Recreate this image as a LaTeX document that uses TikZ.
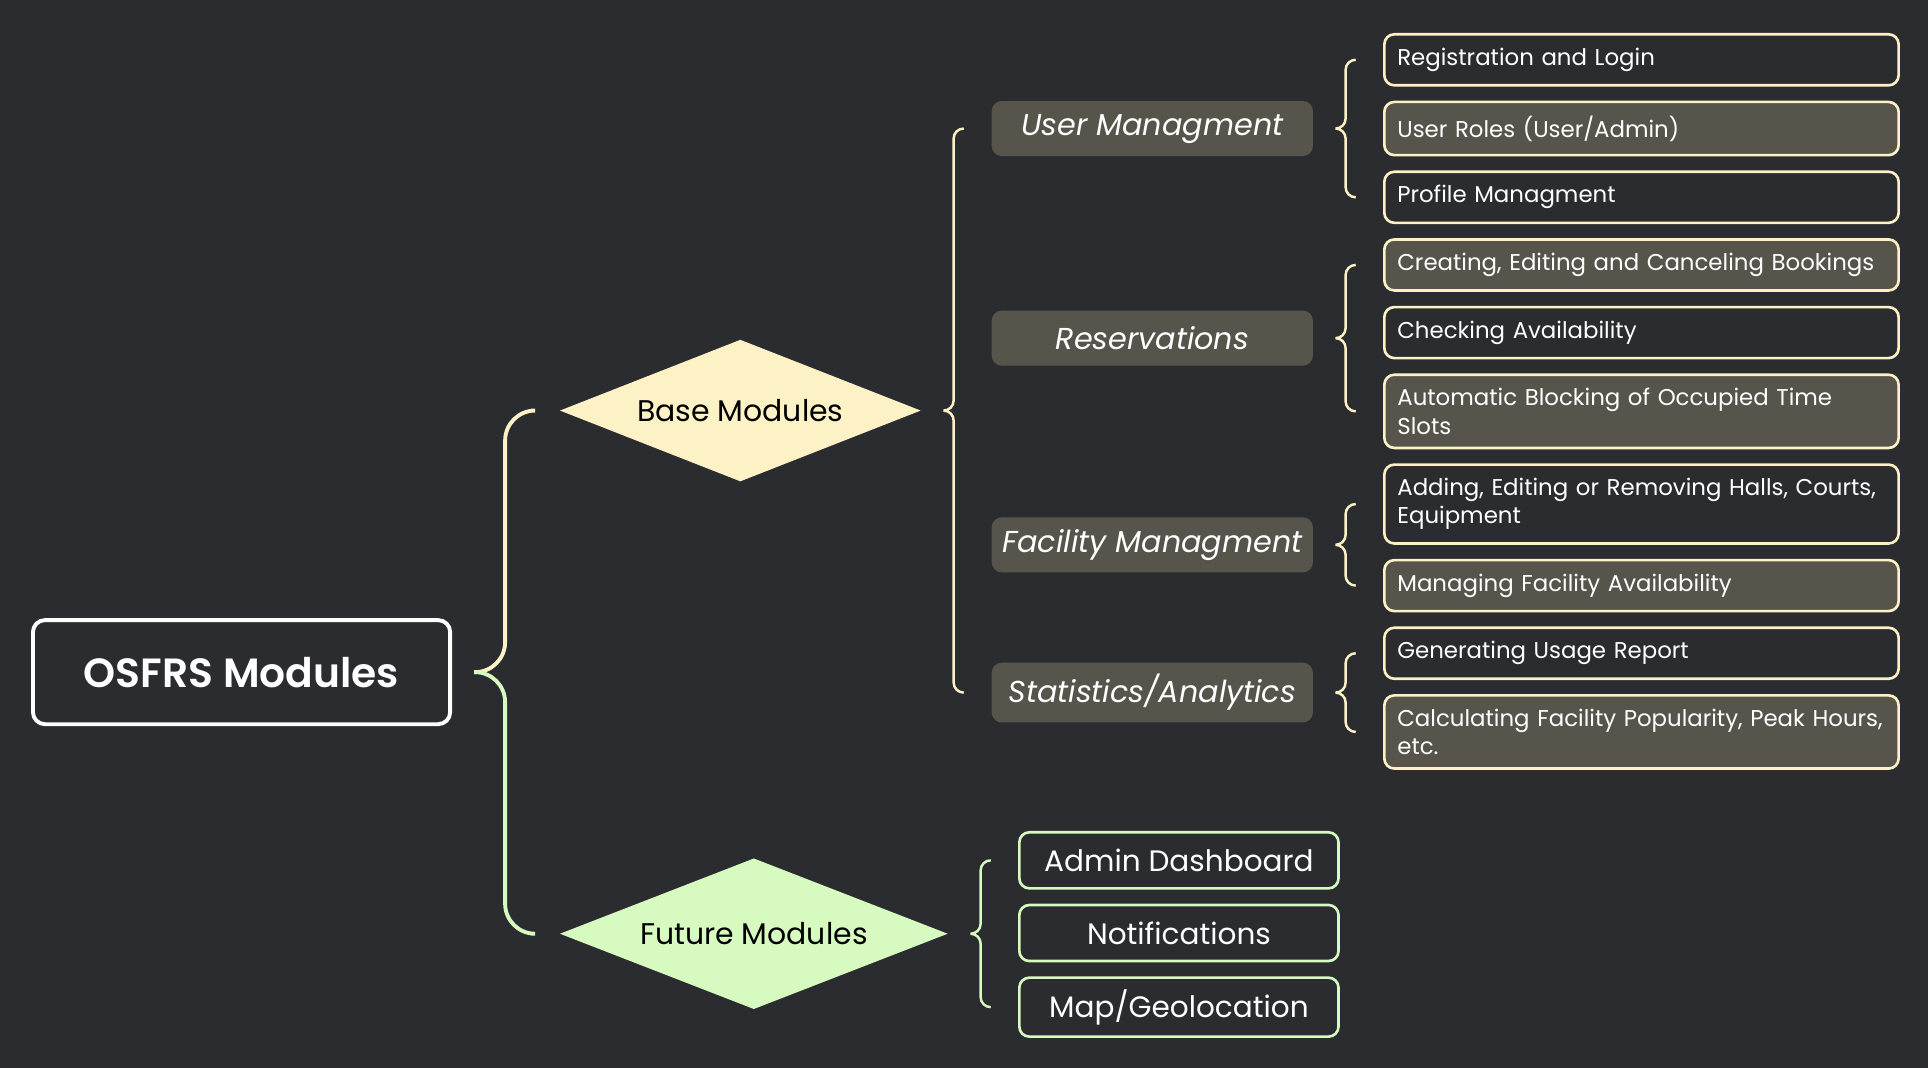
\documentclass[tikz,border=0pt]{standalone}
\usepackage{fontspec}
\setmainfont{Poppins}
\newfontfamily\semibold{Poppins SemiBold}
\usepackage{xcolor}
\usetikzlibrary{shapes.geometric, positioning, calc}

\definecolor{bg}{HTML}{2B2C30}
\definecolor{ylw}{HTML}{FDF2C6}
\definecolor{grn}{HTML}{D6FAC0}
\definecolor{box}{HTML}{57544C}

\begin{document}
\begin{tikzpicture}[x=0.01cm, y=-0.01cm,
  leaf/.style={draw=ylw, line width=0.75pt, rounded corners=0.1cm, text=white,
    minimum width=5.14cm, minimum height=0.47cm, text width=4.88cm, align=left,
    inner xsep=0.13cm, inner ysep=0.137cm, font=\fontsize{6.5}{8}\selectfont},
  fleaf/.style={draw=grn, line width=0.75pt, rounded corners=0.1cm, text=white,
    minimum width=3.19cm, minimum height=0.56cm, font=\fontsize{8.4}{10}\selectfont},
  cat/.style={fill=box, rounded corners=0.1cm, text=white, minimum width=3.21cm,
    minimum height=0.55cm, inner xsep=0.05cm, font=\itshape\fontsize{8.6}{10}\selectfont},
  dmd/.style={diamond, aspect=2.5, inner sep=0pt, text=black,
    font=\fontsize{8.5}{10}\selectfont},
  arm/.style={to path={-- ($(\tikztostart)+(#1,0)$) |- (\tikztotarget)}},
  ybrace/.style={draw=ylw, line width=0.7pt, rounded corners=0.1cm},
  gbrace/.style={draw=grn, line width=0.7pt, rounded corners=0.1cm}]

\fill[bg] (0,0) rectangle (1928,1068);
\useasboundingbox (0,0) rectangle (1928,1068);

% Base leaves
\node[leaf, anchor=north west] (reg) at (1383,33) {Registration and Login};
\node[leaf, fill=box, below=0.14cm of reg] (roles) {User Roles (User/Admin)};
\node[leaf, below=0.14cm of roles] (prof) {Profile Managment};
\node[leaf, fill=box, below=0.14cm of prof] (crt) {Creating, Editing and Canceling Bookings};
\node[leaf, below=0.14cm of crt] (chk) {Checking Availability};
\node[leaf, fill=box, below=0.14cm of chk] (auto) {Automatic Blocking of Occupied Time\\Slots};
\node[leaf, below=0.14cm of auto] (add) {Adding, Editing or Removing Halls, Courts,\\Equipment};
\node[leaf, fill=box, below=0.14cm of add] (mng) {Managing Facility Availability};
\node[leaf, below=0.14cm of mng] (gen) {Generating Usage Report};
\node[leaf, fill=box, below=0.14cm of gen] (calc) {Calculating Facility Popularity, Peak Hours,\\etc.};

% Future leaves
\node[fleaf, anchor=north west] (admin) at (1018,831) {Admin Dashboard};
\node[fleaf, below=0.14cm of admin] (notif) {Notifications};
\node[fleaf, below=0.14cm of notif] (map) {Map/Geolocation};

% Categories
\coordinate (catcol) at (991,0);
\coordinate (umc) at ($(reg)!0.5!(prof)$);
\coordinate (rsc) at ($(crt)!0.5!(auto)$);
\coordinate (fmc) at ($(add)!0.5!(mng)$);
\coordinate (sac) at ($(gen)!0.5!(calc)$);
\node[cat, anchor=west] (um) at (umc -| catcol) {User Managment};
\node[cat, anchor=west] (rs) at (rsc -| catcol) {Reservations};
\node[cat, anchor=west] (fm) at (fmc -| catcol) {Facility Managment};
\node[cat, anchor=west] (sa) at (sac -| catcol) {Statistics/Analytics};

% Diamonds
\coordinate (dmdcol) at (559,0);
\coordinate (bmc) at ($(um)!0.5!(sa)$);
\coordinate (fuc) at ($(admin)!0.5!(map)$);
\node[dmd, fill=ylw, minimum width=3.61cm, minimum height=1.42cm, anchor=west] (base) at (bmc -| dmdcol) {Base Modules};
\node[dmd, fill=grn, minimum width=3.88cm, minimum height=1.51cm, anchor=west] (future) at (fuc -| dmdcol) {Future Modules};

% Root
\coordinate (osc) at ($(base.west)!0.5!(future.west)$);
\node[draw=white, line width=1.1pt, rounded corners=0.12cm, text=white,
  minimum width=4.17cm, minimum height=1.04cm, font=\semibold\fontsize{11.6}{14}\selectfont,
  anchor=west] (root) at (osc -| 31,0) {OSFRS Modules};

% Braces
\draw[ybrace, line width=1.1pt, rounded corners=0.3cm] ($(root.east)+(22,0)$) to[arm=31] ($(base.west)+(-28,0)$);
\draw[gbrace, line width=1.1pt, rounded corners=0.3cm] ($(root.east)+(22,0)$) to[arm=31] ($(future.west)+(-28,0)$);

\draw[ybrace] ($(base.east)+(22,0)$) to[arm=10] ($(um.west)+(-28,0)$)
  ($(base.east)+(22,0)$) to[arm=10] ($(sa.west)+(-28,0)$);
\draw[gbrace] ($(future.east)+(22,0)$) to[arm=10] ($(admin.west)+(-28,0)$)
  ($(future.east)+(22,0)$) to[arm=10] ($(map.west)+(-28,0)$);

\draw[ybrace] ($(um.east)+(22,0)$) to[arm=10] ($(reg.west)+(-28,0)$)
  ($(um.east)+(22,0)$) to[arm=10] ($(prof.west)+(-28,0)$);
\draw[ybrace] ($(rs.east)+(22,0)$) to[arm=10] ($(crt.west)+(-28,0)$)
  ($(rs.east)+(22,0)$) to[arm=10] ($(auto.west)+(-28,0)$);
\draw[ybrace] ($(fm.east)+(22,0)$) to[arm=10] ($(add.west)+(-28,0)$)
  ($(fm.east)+(22,0)$) to[arm=10] ($(mng.west)+(-28,0)$);
\draw[ybrace] ($(sa.east)+(22,0)$) to[arm=10] ($(gen.west)+(-28,0)$)
  ($(sa.east)+(22,0)$) to[arm=10] ($(calc.west)+(-28,0)$);

\end{tikzpicture}
\end{document}
